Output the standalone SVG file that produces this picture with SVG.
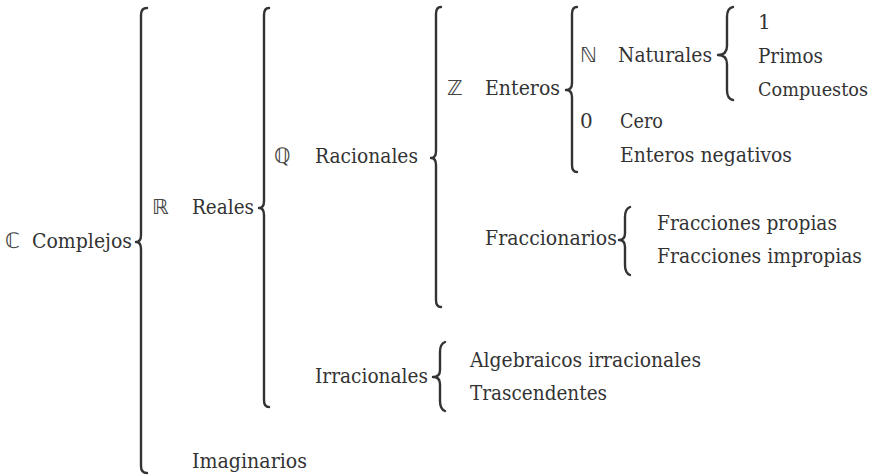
<svg xmlns="http://www.w3.org/2000/svg" width="880" height="476" viewBox="0 0 880 476">
<style>
text{font-family:'DejaVu Serif','Liberation Serif',serif;font-size:20px;fill:#333}
text.bb{font-family:'DejaVu Sans','Noto Sans',sans-serif;font-size:21px;fill:#444}
.br{fill:none;stroke:#333;stroke-width:2.4;stroke-linecap:round;stroke-linejoin:round}
</style>
<rect width="880" height="476" fill="#fff"/>
<g id="connectors">
<path class="br" d="M147,8 Q141,8 141,15 L141,235 Q141,242 136,242 Q141,242 141,249 L141,466 Q141,473 147,473"/>
<path class="br" d="M269,8 Q264,8 264,15 L264,201 Q264,208 259,208 Q264,208 264,215 L264,400 Q264,407 269,407"/>
<path class="br" d="M441,7 Q436,7 436,14 L436,151 Q436,158 431,158 Q436,158 436,165 L436,300 Q436,307 441,307"/>
<path class="br" d="M577,7 Q572,7 572,14 L572,83 Q572,90 566,90 Q572,90 572,97 L572,165 Q572,172 577,172"/>
<path class="br" d="M733,7 Q727,8 727,17 L727,46 Q727,55 718,55 Q727,55 727,64 L727,90 Q727,99 733,100"/>
<path class="br" d="M630,207 Q625,209 625,217 L625,233 Q625,240 619,240 Q625,240 625,247 L625,265 Q625,273 630,275"/>
<path class="br" d="M445,342 Q440,344 440,352 L440,370 Q440,377 433,377 Q440,377 440,384 L440,401 Q440,409 445,411"/>
</g>
<g id="complejos"><text class="bb" x="5" y="248">ℂ</text><text x="32" y="248" textLength="100" lengthAdjust="spacingAndGlyphs">Complejos</text></g>
<g id="reales"><text class="bb" x="152" y="214">ℝ</text><text x="192" y="214" textLength="62" lengthAdjust="spacingAndGlyphs">Reales</text></g>
<g id="imaginarios"><text x="192" y="468" textLength="115" lengthAdjust="spacingAndGlyphs">Imaginarios</text></g>
<g id="racionales"><text class="bb" x="274" y="163">ℚ</text><text x="315" y="163" textLength="103" lengthAdjust="spacingAndGlyphs">Racionales</text></g>
<g id="irracionales"><text x="315" y="383" textLength="113" lengthAdjust="spacingAndGlyphs">Irracionales</text></g>
<g id="enteros"><text class="bb" x="447" y="95">ℤ</text><text x="485" y="95" textLength="75" lengthAdjust="spacingAndGlyphs">Enteros</text></g>
<g id="fraccionarios"><text x="485" y="245" textLength="132" lengthAdjust="spacingAndGlyphs">Fraccionarios</text></g>
<g id="naturales"><text class="bb" x="580" y="62">ℕ</text><text x="618" y="62" textLength="94" lengthAdjust="spacingAndGlyphs">Naturales</text></g>
<g id="cero"><text x="580" y="128">0</text><text x="620" y="128" textLength="43" lengthAdjust="spacingAndGlyphs">Cero</text></g>
<g id="negativos"><text x="620" y="162" textLength="172" lengthAdjust="spacingAndGlyphs">Enteros negativos</text></g>
<g id="uno"><text x="758" y="29">1</text></g>
<g id="primos"><text x="758" y="63" textLength="65" lengthAdjust="spacingAndGlyphs">Primos</text></g>
<g id="compuestos"><text x="758" y="96" style="font-size:18.5px" textLength="110" lengthAdjust="spacingAndGlyphs">Compuestos</text></g>
<g id="propias"><text x="657" y="230" textLength="180" lengthAdjust="spacingAndGlyphs">Fracciones propias</text></g>
<g id="impropias"><text x="657" y="263" textLength="205" lengthAdjust="spacingAndGlyphs">Fracciones impropias</text></g>
<g id="algebraicos"><text x="470" y="367" textLength="231" lengthAdjust="spacingAndGlyphs">Algebraicos irracionales</text></g>
<g id="trascendentes"><text x="470" y="400" textLength="137" lengthAdjust="spacingAndGlyphs">Trascendentes</text></g>
</svg>
